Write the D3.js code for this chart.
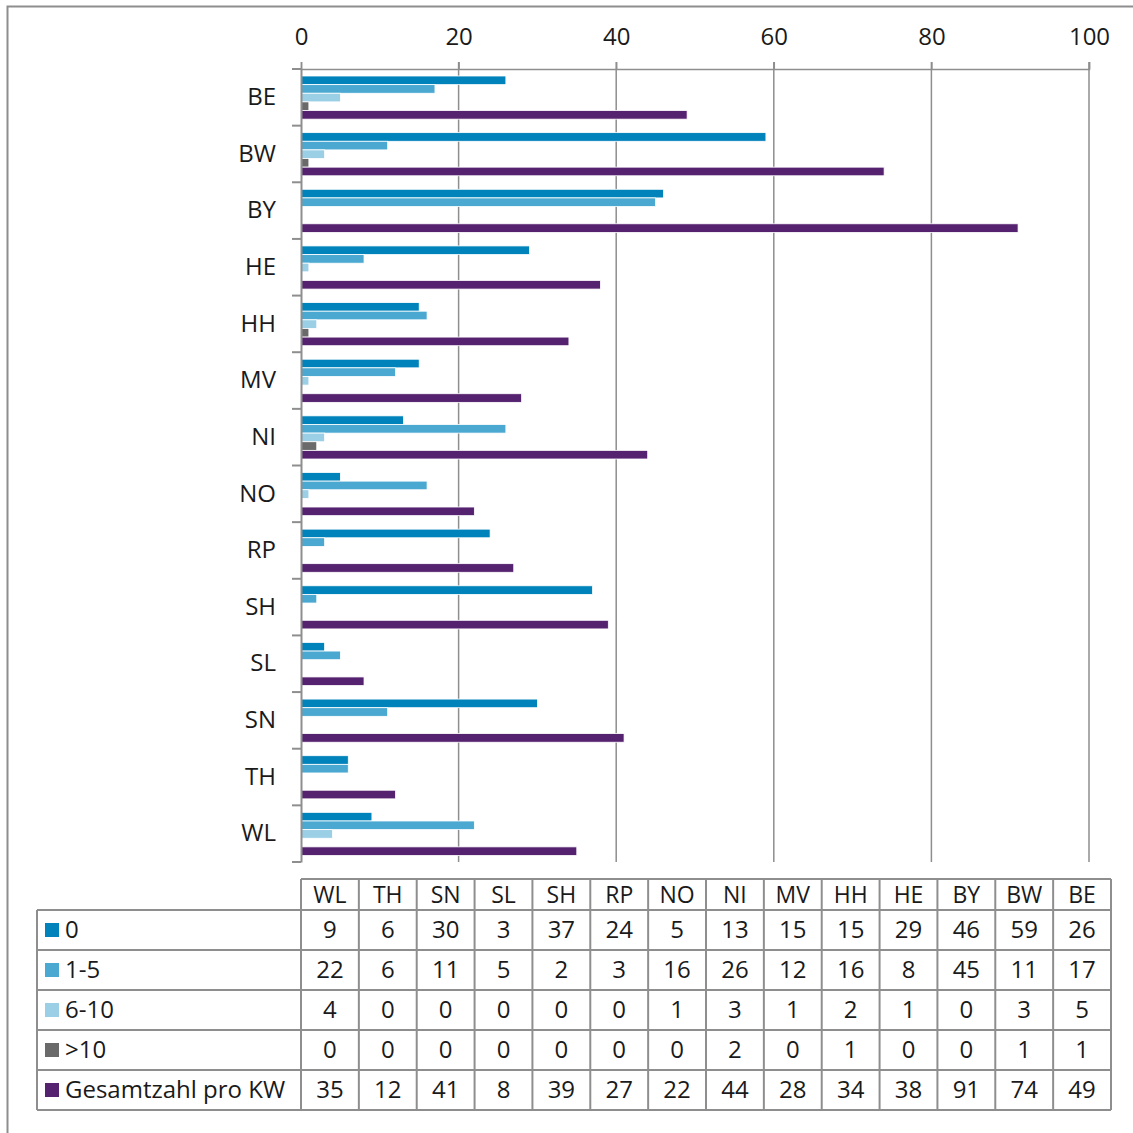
<!DOCTYPE html>
<html>
<head>
<meta charset="utf-8">
<script src="https://cdn.jsdelivr.net/npm/d3@7"></script>
<style>
  body { margin: 0; background: #fff; }
  svg text { font-family: "Open Sans", "Noto Sans", sans-serif; fill: #1a1a1a; }
</style>
</head>
<body>
<div id="chart"></div>
<script>
// chart data
var categories = ["BE", "BW", "BY", "HE", "HH", "MV", "NI", "NO", "RP", "SH", "SL", "SN", "TH", "WL"];
var seriesNames = ["0", "1-5", "6-10", ">10", "Gesamtzahl pro KW"];
var vals0 = [26, 59, 46, 29, 15, 15, 13, 5, 24, 37, 3, 30, 6, 9];
var vals1to5 = [17, 11, 45, 8, 16, 12, 26, 16, 3, 2, 5, 11, 6, 22];
var vals6to10 = [5, 3, 0, 1, 2, 1, 3, 1, 0, 0, 0, 0, 0, 4];
var valsOver10 = [1, 1, 0, 0, 1, 0, 2, 0, 0, 0, 0, 0, 0, 0];
var valsTotal = [49, 74, 91, 38, 34, 28, 44, 22, 27, 39, 8, 41, 12, 35];
var xTicks = [0, 20, 40, 60, 80, 100];

var colors = ["#0082ba", "#4ba9d1", "#9bcfe6", "#6a6a6a", "#55226f"];
var seriesVals = [vals0, vals1to5, vals6to10, valsOver10, valsTotal];

function init() {
    var w = 1133, h = 1133;
    var gridColor = "#8e8e8e";

    var svg = d3.select("#chart")
        .append("svg")
        .attr("width", w)
        .attr("height", h);

    // outer frame
    svg.append("rect")
        .attr("x", 7.5).attr("y", 6.5)
        .attr("width", 1140).attr("height", 1140)
        .attr("fill", "none")
        .attr("stroke", gridColor)
        .attr("stroke-width", 2);

    var plotTop = 69, plotBottom = 862;

    var xScale = d3.scaleLinear()
        .domain([0, 100])
        .range([301, 1089]);

    var yScale = d3.scaleBand()
        .domain(categories)
        .range([plotTop, plotBottom]);

    var yInner = d3.scaleBand()
        .domain(d3.range(seriesNames.length))
        .range([7, yScale.bandwidth() - 6.5]);

    // vertical gridlines
    svg.append("g")
        .selectAll("line")
        .data(xTicks.slice(1))
        .enter()
        .append("line")
        .attr("x1", function (d) { return xScale(d); })
        .attr("x2", function (d) { return xScale(d); })
        .attr("y1", plotTop - 7)
        .attr("y2", plotBottom)
        .attr("stroke", gridColor)
        .attr("stroke-width", 1.5);

    // top axis
    var xAxis = d3.axisTop()
        .scale(xScale)
        .tickValues(xTicks)
        .tickSize(7)
        .tickPadding(17);

    var gx = svg.append("g")
        .attr("transform", "translate(0," + plotTop + ")")
        .call(xAxis);
    gx.select(".domain").attr("stroke", gridColor).attr("stroke-width", 1.5);
    gx.selectAll(".tick line").attr("stroke", gridColor).attr("stroke-width", 1.5);
    gx.selectAll(".tick text")
        .attr("font-size", 24)
        .attr("fill", "#1a1a1a")
        .style("font-family", "'Open Sans', sans-serif");

    // bars
    var groups = svg.append("g")
        .selectAll("g")
        .data(categories)
        .enter()
        .append("g")
        .attr("transform", function (d) { return "translate(0," + yScale(d) + ")"; });

    groups.selectAll("rect")
        .data(function (d, i) {
            return seriesVals.map(function (s, k) { return { k: k, v: s[i] }; });
        })
        .enter()
        .filter(function (d) { return d.v > 0; })
        .append("rect")
        .attr("x", xScale(0))
        .attr("y", function (d) { return yInner(d.k); })
        .attr("width", function (d) { return xScale(d.v) - xScale(0); })
        .attr("height", yInner.bandwidth())
        .attr("fill", function (d) { return colors[d.k]; })
        .attr("stroke", "#ffffff")
        .attr("stroke-width", 0.8);

    // left axis
    var yAxis = d3.axisLeft()
        .scale(yScale)
        .tickSize(0)
        .tickPadding(25);

    var gy = svg.append("g")
        .attr("transform", "translate(" + xScale(0) + ",0)")
        .call(yAxis);
    gy.select(".domain").attr("stroke", gridColor).attr("stroke-width", 2);
    gy.selectAll(".tick text")
        .attr("font-size", 24)
        .attr("fill", "#1a1a1a")
        .style("font-family", "'Open Sans', sans-serif");

    // category boundary ticks
    var bounds = categories.map(function (c) { return yScale(c); }).concat([plotBottom]);
    gy.selectAll(".bound")
        .data(bounds)
        .enter()
        .append("line")
        .attr("class", "bound")
        .attr("x1", -9).attr("x2", 0)
        .attr("y1", function (d) { return d; })
        .attr("y2", function (d) { return d; })
        .attr("stroke", gridColor)
        .attr("stroke-width", 2);

    // data table
    var tableCats = categories.slice().reverse();
    var colScale = d3.scaleBand()
        .domain(tableCats)
        .range([301, 1111]);

    var headTop = 879, rowTop = 910, rowH = 40, legendLeft = 37;
    var tableRight = colScale.range()[1];
    var tableBottom = rowTop + rowH * seriesNames.length;
    var table = svg.append("g");

    // header cells
    table.append("line")
        .attr("x1", colScale.range()[0]).attr("x2", tableRight)
        .attr("y1", headTop).attr("y2", headTop);
    table.selectAll(".hdiv")
        .data(tableCats.map(function (c) { return colScale(c); }).concat([tableRight]))
        .enter()
        .append("line")
        .attr("x1", function (d) { return d; })
        .attr("x2", function (d) { return d; })
        .attr("y1", headTop)
        .attr("y2", tableBottom);
    table.selectAll(".rowline")
        .data(d3.range(seriesNames.length + 1))
        .enter()
        .append("line")
        .attr("x1", legendLeft).attr("x2", tableRight)
        .attr("y1", function (d) { return rowTop + d * rowH; })
        .attr("y2", function (d) { return rowTop + d * rowH; });
    table.append("line")
        .attr("x1", legendLeft).attr("x2", legendLeft)
        .attr("y1", rowTop).attr("y2", tableBottom);
    table.selectAll("line")
        .attr("stroke", gridColor)
        .attr("stroke-width", 2);

    table.selectAll(".htext")
        .data(tableCats)
        .enter()
        .append("text")
        .attr("x", function (d) { return colScale(d) + colScale.bandwidth() / 2; })
        .attr("y", (headTop + rowTop) / 2)
        .attr("dy", "0.35em")
        .attr("text-anchor", "middle")
        .attr("font-size", 23)
        .text(function (d) { return d; });

    // legend + values
    var rows = table.selectAll(".row")
        .data(seriesNames)
        .enter()
        .append("g")
        .attr("transform", function (d, k) { return "translate(0," + (rowTop + k * rowH + rowH / 2) + ")"; });

    rows.append("rect")
        .attr("x", 45).attr("y", -7)
        .attr("width", 14).attr("height", 14)
        .attr("fill", function (d, k) { return colors[k]; });

    rows.append("text")
        .attr("x", 65)
        .attr("dy", "0.35em")
        .attr("font-size", 24)
        .text(function (d) { return d; });

    rows.selectAll(".val")
        .data(function (d, k) {
            return tableCats.map(function (c) {
                return { c: c, v: seriesVals[k][categories.indexOf(c)] };
            });
        })
        .enter()
        .append("text")
        .attr("x", function (d) { return colScale(d.c) + colScale.bandwidth() / 2; })
        .attr("dy", "0.35em")
        .attr("text-anchor", "middle")
        .attr("font-size", 24)
        .text(function (d) { return d.v; });
}

window.onload = init;
</script>
</body>
</html>
